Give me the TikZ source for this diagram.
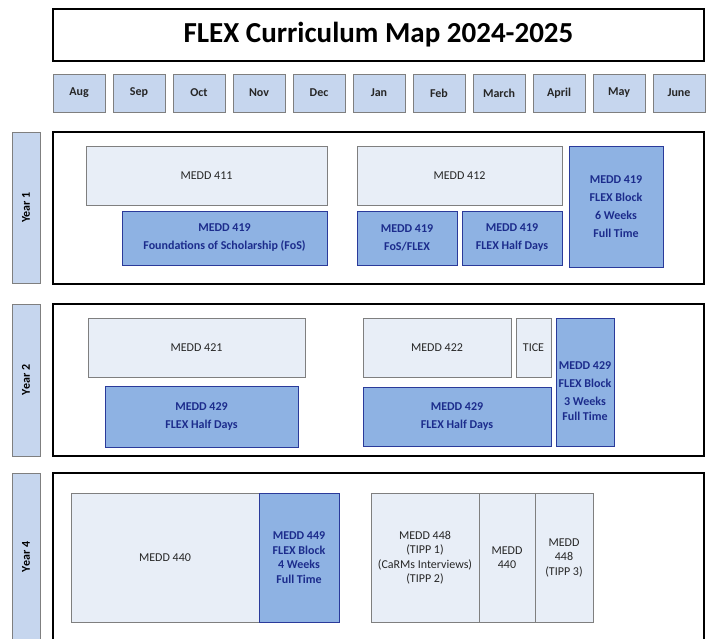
\documentclass[tikz,border=0pt]{standalone}
\usepackage{fontspec}
\setmainfont{Carlito}
\definecolor{monthfill}{HTML}{C6D6EE}
\definecolor{lightfill}{HTML}{E8EEF7}
\definecolor{bluefill}{HTML}{8EB2E3}
\definecolor{blueline}{HTML}{2A3A9A}
\definecolor{bluetext}{HTML}{1C2C8C}
\definecolor{grayline}{HTML}{7F7F7F}
\definecolor{darktext}{HTML}{262626}
\newcommand{\rbox}[7]{%
  \node[#2, minimum width={(#5-#3)*1pt}, minimum height={(#6-#4)*1pt}]
    (#1) at ({(#3+#5)/2},{(#4+#6)/2}) {#7};}
\tikzset{
  every node/.style={inner sep=0pt, outer sep=0pt, align=center},
  titlebox/.style={draw=black, line width=1.4pt, fill=white, font=\fontsize{29}{33}\selectfont\bfseries, text=black},
  monthbox/.style={draw=grayline, line width=0.9pt, fill=monthfill, font=\fontsize{12}{14}\selectfont\bfseries, text=darktext},
  yearbox/.style={draw=grayline, line width=0.9pt, fill=monthfill},
  yeartext/.style={rotate=90, font=\fontsize{12}{14}\selectfont\bfseries, text=black},
  container/.style={draw=black, line width=1.4pt, fill=white},
  lightbox/.style={draw=grayline, line width=0.9pt, fill=lightfill, font=\fontsize{12}{14.5}\selectfont, text=darktext},
  bluebox/.style={draw=blueline, line width=0.9pt, fill=bluefill, font=\fontsize{12}{18}\selectfont\bfseries, text=bluetext},
  blueboxtight/.style={bluebox, font=\fontsize{12}{14.5}\selectfont\bfseries},
  bluelabel/.style={font=\fontsize{12}{18}\selectfont\bfseries, text=bluetext},
}
\begin{document}
\begin{tikzpicture}[x=1pt,y=-1pt]
\useasboundingbox[fill=white] (0,0) rectangle (706,639);
\clip (0,0) rectangle (706,639);
% title
\rbox{title}{titlebox}{53}{9}{704}{61}{FLEX Curriculum Map 2024-2025}
% months
\rbox{aug}{monthbox}{53}{74}{105}{112}{Aug}
\rbox{sep}{monthbox}{113}{74}{165}{112}{Sep}
\rbox{oct}{monthbox}{173}{74}{225}{112}{Oct}
\rbox{nov}{monthbox}{233}{74}{285}{112}{Nov}
\rbox{dec}{monthbox}{293}{74}{345}{112}{Dec}
\rbox{jan}{monthbox}{353}{74}{405}{112}{Jan}
\rbox{feb}{monthbox}{413}{74}{465}{112}{Feb}
\rbox{mar}{monthbox}{473}{74}{525}{112}{March}
\rbox{apr}{monthbox}{533}{74}{585}{112}{April}
\rbox{may}{monthbox}{593}{74}{645}{112}{May}
\rbox{jun}{monthbox}{653}{74}{705}{112}{June}
% Year 1
\rbox{y1}{yearbox}{12}{132}{40}{283}{}
\node[yeartext] (y1t) at (y1.center) {Year 1};
\rbox{c1}{container}{53}{132}{704}{284}{}
\rbox{m411}{lightbox}{86}{146}{327}{205}{MEDD 411}
\rbox{fos}{bluebox}{122}{211}{327}{265}{MEDD 419\\Foundations of Scholarship (FoS)}
\rbox{m412}{lightbox}{357}{146}{562}{205}{MEDD 412}
\rbox{fosflex}{bluebox}{357}{211}{457}{265}{MEDD 419\\FoS/FLEX}
\rbox{half1}{bluebox}{462}{211}{562}{265}{MEDD 419\\FLEX Half Days}
\rbox{blk1}{bluebox}{569}{146}{663}{267}{MEDD 419\\FLEX Block\\6 Weeks\\Full Time}
% Year 2
\rbox{y2}{yearbox}{12}{304}{40}{456}{}
\node[yeartext] (y2t) at (y2.center) {Year 2};
\rbox{c2}{container}{53}{304}{704}{456}{}
\rbox{m421}{lightbox}{88}{318}{305}{377}{MEDD 421}
\rbox{half2a}{bluebox}{105}{386}{298}{447}{MEDD 429\\FLEX Half Days}
\rbox{m422}{lightbox}{363}{318}{511}{377}{MEDD 422}
\rbox{tice}{lightbox}{516}{318}{551}{377}{TICE}
\rbox{half2b}{bluebox}{363}{387}{551}{446}{MEDD 429\\FLEX Half Days}
\rbox{blk2}{bluebox}{556}{318}{614}{446}{}
\node[bluelabel] (blk2t) at ([yshift=-9pt]blk2.center) {MEDD 429\\FLEX Block\\3 Weeks\\[-3.5pt]Full Time};
% Year 4
\rbox{y4}{yearbox}{12}{473}{40}{641}{}
\node[yeartext] (y4t) at (y4.center) {Year 4};
\coordinate (c4bl) at (53,645);
\coordinate (c4br) at (704,645);
\draw[black, line width=1.4pt] (c4bl) -- (53,473) -- (704,473) -- (c4br);
\rbox{m440}{lightbox}{71}{493}{259}{622}{MEDD 440}
\rbox{m449}{blueboxtight}{259}{493}{339}{622}{MEDD 449\\FLEX Block\\4 Weeks\\Full Time}
\rbox{m448a}{lightbox}{371}{493}{479}{622}{MEDD 448\\(TIPP 1)\\(CaRMs Interviews)\\(TIPP 2)}
\rbox{m440b}{lightbox}{479}{493}{535}{622}{MEDD\\440}
\rbox{m448b}{lightbox}{535}{493}{593}{622}{MEDD\\448\\(TIPP 3)}
\end{tikzpicture}
\end{document}
